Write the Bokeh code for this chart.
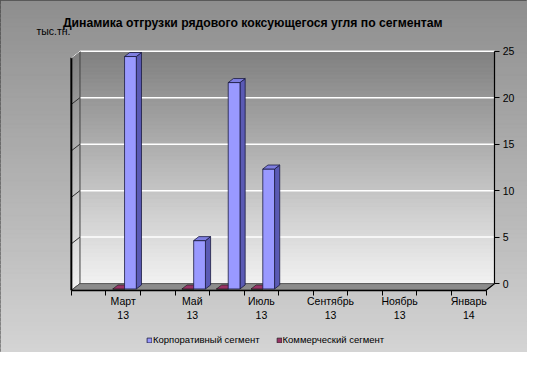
from bokeh.plotting import figure
from bokeh.models import Range1d, LinearAxis, FixedTicker, Legend, LegendItem
from bokeh.core.properties import value
from bokeh.embed import file_html
from bokeh.resources import INLINE

# ---------------- data ----------------
months = ["Февраль 13", "Март 13", "Апрель 13", "Май 13", "Июнь 13", "Июль 13",
          "Август 13", "Сентябрь 13", "Октябрь 13", "Ноябрь 13", "Декабрь 13", "Январь 14"]
corporate = [None, 25.0, None, 5.2, 22.2, 12.9, None, None, None, None, None, None]
commercial = [None, 0.0, None, 0.0, 0.0, 0.0, None, None, None, None, None, None]
labeled_months = ["Март 13", "Май 13", "Июль 13", "Сентябрь 13", "Ноябрь 13", "Январь 14"]
y_ticks = [0, 5, 10, 15, 20, 25]
series_names = ["Корпоративный сегмент", "Коммерческий сегмент"]
title_text = "Динамика отгрузки рядового коксующегося угля по сегментам"
unit_text = "тыс.тн."

# ---------------- geometry ----------------
N = len(months)
YMAX = y_ticks[-1]
DX, DY = 0.25, 0.72          # 3-D depth offset (x in categories, y in values)
T0, T1 = 0.2, 0.8            # depth span of the bars
X0, X1 = -2.05, 13.2
Y0, Y1 = -7.41, 30.45

FONT = "Liberation Sans"


def grey(level):
    h = max(0, min(255, int(round(level))))
    return "#%02x%02x%02x" % (h, h, h)


def P(u, v, t):
    return (u + DX * t, v - DY * (1 - t))


p = figure(width=527, height=352, x_range=Range1d(X0, X1), y_range=Range1d(Y0, Y1),
           output_backend="svg", toolbar_location=None,
           x_axis_location=None, y_axis_location=None, min_border=0)
p.grid.grid_line_color = None
p.outline_line_color = "black"
p.background_fill_color = "#b0b0b0"
p.border_fill_color = "#b0b0b0"

# outer background gradient
nb = 80
bl, bt, bc = [], [], []
for k in range(nb):
    a = Y0 + (Y1 - Y0) * k / nb
    b = Y0 + (Y1 - Y0) * (k + 1) / nb
    f = (k + 0.5) / nb
    bl.append(a); bt.append(b); bc.append(grey(0xd4 - (0xd4 - 0x8e) * f))
p.quad(left=X0, right=X1, bottom=bl, top=bt, fill_color=bc, line_color=bc, line_width=1)

# back wall + side wall gradient
nw = 60
wb, wt, wc, sx, sy = [], [], [], [], []
for k in range(nw):
    a = YMAX * k / nw
    b = YMAX * (k + 1) / nw
    f = (k + 0.5) / nw
    c = grey(0xf2 - (0xf2 - 0x80) * f)
    wb.append(a); wt.append(b); wc.append(c)
    sx.append([0, DX, DX, 0]); sy.append([a - DY, a, b, b - DY])
p.quad(left=DX, right=N + DX, bottom=wb, top=wt, fill_color=wc, line_color=wc, line_width=1)
p.patches(xs=sx, ys=sy, fill_color=wc, line_color=wc, line_width=1)

# gridlines on back wall and side wall
p.segment(x0=DX, x1=N + DX, y0=y_ticks, y1=y_ticks, line_color="white", line_width=1.5)
p.segment(x0=0, x1=DX, y0=[v - DY for v in y_ticks], y1=y_ticks, line_color="#303030", line_width=1)

# floor
p.patch(x=[0, N, N + DX, DX], y=[-DY, -DY, 0, 0], fill_color="#8c8c8c", line_color="#555555", line_width=1)
p.segment(x0=N, y0=-DY, x1=N + DX, y1=0, line_color="black", line_width=1.2)

# wall edges
p.segment(x0=DX, y0=0, x1=DX, y1=YMAX, line_color="#404040", line_width=1)
p.segment(x0=0, y0=-DY, x1=0, y1=YMAX - DY, line_color="black", line_width=2)
p.segment(x0=0, y0=YMAX - DY, x1=DX, y1=YMAX, line_color="#f0f0f0", line_width=1)


def bar_faces(vals, off_a, off_b):
    fx, fy, sxx, syy, tx, ty = [], [], [], [], [], []
    for i, v in enumerate(vals):
        if v is None:
            continue
        a, b = i + off_a, i + off_b
        pts = [P(a, 0, T0), P(b, 0, T0), P(b, v, T0), P(a, v, T0)]
        fx.append([q[0] for q in pts]); fy.append([q[1] for q in pts])
        pts = [P(b, 0, T0), P(b, 0, T1), P(b, v, T1), P(b, v, T0)]
        sxx.append([q[0] for q in pts]); syy.append([q[1] for q in pts])
        pts = [P(a, v, T0), P(b, v, T0), P(b, v, T1), P(a, v, T1)]
        tx.append([q[0] for q in pts]); ty.append([q[1] for q in pts])
    return fx, fy, sxx, syy, tx, ty


# commercial (left of cluster)
fx, fy, sxx, syy, tx, ty = bar_faces(commercial, 0.15, 0.49)
p.patches(xs=sxx, ys=syy, fill_color="#5e1f40", line_color="#202020", line_width=0.7)
p.patches(xs=fx, ys=fy, fill_color="#993366", line_color="#202020", line_width=0.7)
comm_top = p.patches(xs=tx, ys=ty, fill_color="#993366", line_color="#202020", line_width=0.7)

# corporate (right of cluster)
fx, fy, sxx, syy, tx, ty = bar_faces(corporate, 0.49, 0.83)
p.patches(xs=sxx, ys=syy, fill_color="#5a5ab4", line_color="#1a1a40", line_width=0.8)
corp_front = p.patches(xs=fx, ys=fy, fill_color="#9999ff", line_color="#1a1a40", line_width=0.8)
p.patches(xs=tx, ys=ty, fill_color="#7e7ee0", line_color="#1a1a40", line_width=0.8)

# value axis (right, at back wall)
yax = LinearAxis(fixed_location=N + DX, ticker=FixedTicker(ticks=y_ticks), bounds=(0, YMAX))
yax.axis_line_color = "black"
yax.axis_line_width = 1.2
yax.major_tick_in = 0
yax.major_tick_out = 5
yax.major_tick_line_color = "black"
yax.minor_tick_line_color = None
yax.major_label_standoff = 3
yax.major_label_text_font = FONT
yax.major_label_text_font_size = "10.5px"
yax.major_label_text_color = "black"
p.add_layout(yax, "right")

# category axis: tick marks
xax = LinearAxis(fixed_location=-DY, ticker=FixedTicker(ticks=list(range(N + 1))), bounds=(0, N))
xax.axis_line_color = "black"
xax.axis_line_width = 1.5
xax.major_tick_in = 0
xax.major_tick_out = 5
xax.major_tick_line_color = "black"
xax.minor_tick_line_color = None
xax.major_label_text_color = None
p.add_layout(xax, "below")

# category axis: labels
centers = [i + 0.5 for i, m in enumerate(months) if m in labeled_months]
lab = LinearAxis(fixed_location=-DY, ticker=FixedTicker(ticks=centers))
lab.axis_line_color = None
lab.major_tick_line_color = None
lab.minor_tick_line_color = None
lab.major_tick_in = 0
lab.major_tick_out = 0
lab.major_label_standoff = 5
lab.major_label_overrides = {i + 0.5: m.replace(" ", "\n") for i, m in enumerate(months) if m in labeled_months}
lab.major_label_text_font = FONT
lab.major_label_text_font_size = "10.5px"
lab.major_label_text_color = "black"
lab.major_label_text_line_height = 1.1
p.add_layout(lab, "below")

# title and unit
p.text(x=[5.25], y=[27.98], text=[title_text], text_font=value(FONT), text_font_style="bold",
       text_font_size="12.2px", text_align="center", text_baseline="alphabetic", text_color="black")
p.text(x=[-1.01], y=[27.16], text=[unit_text], text_font=value(FONT),
       text_font_size="10.5px", text_align="left", text_baseline="alphabetic", text_color="black")

legend = Legend(items=[LegendItem(label=series_names[0], renderers=[corp_front]),
                       LegendItem(label=series_names[1], renderers=[comm_top])],
                orientation="horizontal", location=(146, 7))
legend.background_fill_alpha = 0
legend.border_line_color = None
legend.padding = 0
legend.margin = 0
legend.spacing = 16
legend.glyph_width = 6
legend.glyph_height = 6
legend.label_height = 10
legend.label_standoff = 1
legend.label_text_font = FONT
legend.label_text_font_size = "9.5px"
legend.label_text_color = "black"
p.add_layout(legend)

open("out.html", "w").write(file_html(p, INLINE))
